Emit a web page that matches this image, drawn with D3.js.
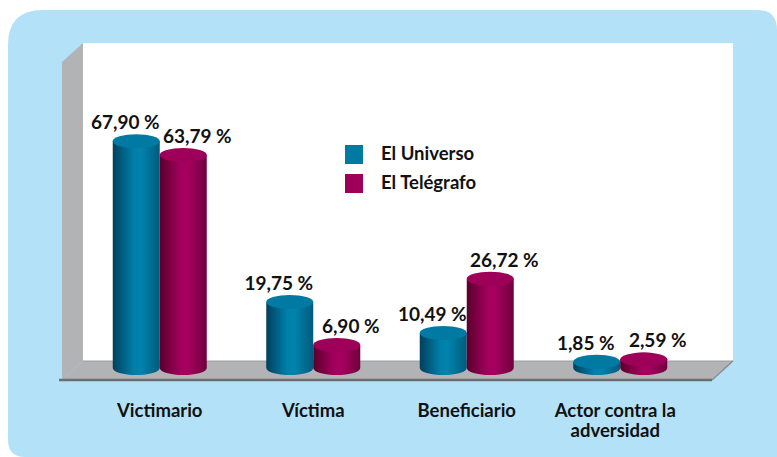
<!DOCTYPE html>
<html>
<head>
<meta charset="utf-8">
<script src="https://cdn.jsdelivr.net/npm/d3@7"></script>
<style>
  body { margin: 0; background: #fff; }
  svg text { font-family: Lato, "Open Sans", sans-serif; font-weight: 700; fill: #111; }
</style>
</head>
<body>
<svg id="chart" width="777" height="457"></svg>
<script>
const categories = ["Victimario", "Víctima", "Beneficiario", "Actor contra la adversidad"];
const seriesNames = ["El Universo", "El Telégrafo"];
const universo = [67.90, 19.75, 10.49, 1.85];
const telegrafo = [63.79, 6.90, 26.72, 2.59];

const colors = ["#0079a3", "#9e0059"];
const sideStops = [
  ["#00405c", "#0080ab", "#0083ad", "#005b7c"],
  ["#5a002c", "#a3005d", "#a6005f", "#70003c"]
];

const svg = d3.select("#chart");
const defs = svg.append("defs");

// background card
svg.append("path")
  .attr("d", "M8,45 Q8,10 43,10 L757,10 Q777,10 777,30 L777,460 L8,460 Z")
  .attr("fill", "#b3e2f8");
svg.append("path")
  .attr("d", "M8,440 Q8,457 25,457 L8,457 Z")
  .attr("fill", "#fff");

// plot area + 3D wall / floor
svg.append("rect").attr("x", 83).attr("y", 43).attr("width", 650).attr("height", 320).attr("fill", "#fff");
svg.append("polygon")
  .attr("points", "62,62 83,43 83,361 62,379")
  .attr("fill", "#b1b3b5");
svg.append("polygon")
  .attr("points", "83,361 733,361 712,379 62,379")
  .attr("fill", "#b1b3b5");
svg.append("line").attr("x1", 83).attr("y1", 361).attr("x2", 733).attr("y2", 361)
  .attr("stroke", "#9a9c9e").attr("stroke-width", 1);
svg.append("line").attr("x1", 59).attr("y1", 380).attr("x2", 712).attr("y2", 380)
  .attr("stroke", "#6d6e70").attr("stroke-width", 2.5);
svg.append("line").attr("x1", 733).attr("y1", 361).attr("x2", 712).attr("y2", 380)
  .attr("stroke", "#8a8c8e").attr("stroke-width", 1.5);

const x0 = d3.scaleBand().domain(categories).range([83, 697]);
const x1 = d3.scaleBand().domain(seriesNames).range([0, 94]);
const y = d3.scaleLinear().domain([0, 100]).range([368, 34]);

sideStops.forEach(function (stops, i) {
  const g = defs.append("linearGradient").attr("id", "side" + i)
    .attr("x1", "0%").attr("x2", "100%").attr("y1", "0%").attr("y2", "0%");
  [0, 0.45, 0.6, 1].forEach(function (o, k) {
    g.append("stop").attr("offset", o).attr("stop-color", stops[k]);
  });
});

const rows = categories.map(function (c, i) {
  return [
    { cat: c, s: 0, value: universo[i] },
    { cat: c, s: 1, value: telegrafo[i] }
  ];
}).flat();

const offset = (x0.bandwidth() - 94) / 2;
const rx = x1.bandwidth() / 2;
const ry = 7;

const bars = svg.append("g").selectAll("g")
  .data(rows)
  .enter()
  .append("g");

bars.append("path")
  .attr("fill", function (d) { return "url(#side" + d.s + ")"; })
  .attr("d", function (d) {
    const l = x0(d.cat) + offset + x1(seriesNames[d.s]);
    const r = l + x1.bandwidth();
    const top = y(d.value), base = y(0);
    return "M" + l + "," + top + " L" + l + "," + base +
      " A" + rx + "," + ry + " 0 0 0 " + r + "," + base +
      " L" + r + "," + top + " Z";
  });

bars.append("ellipse")
  .attr("cx", function (d) { return x0(d.cat) + offset + x1(seriesNames[d.s]) + rx; })
  .attr("cy", function (d) { return y(d.value); })
  .attr("rx", rx)
  .attr("ry", ry)
  .attr("fill", function (d) { return colors[d.s]; });

const fmt = function (v) { return d3.format(".2f")(v).replace(".", ",") + " %"; };

bars.append("text")
  .attr("x", function (d) {
    return x0(d.cat) + offset + x1(seriesNames[d.s]) + rx + (d.s === 0 ? -11 : 14);
  })
  .attr("y", function (d) { return y(d.value) - 12; })
  .attr("text-anchor", "middle")
  .attr("font-size", 19)
  .text(function (d) { return fmt(d.value); });

// category labels
function wrap(label) {
  const words = label.split(" ");
  const lines = [];
  let cur = "";
  words.forEach(function (w) {
    const t = cur ? cur + " " + w : w;
    if (t.length > 15 && cur) { lines.push(cur); cur = w; } else { cur = t; }
  });
  lines.push(cur);
  return lines;
}

const catLabels = svg.append("g").selectAll("text")
  .data(categories)
  .enter()
  .append("text")
  .attr("text-anchor", "middle")
  .attr("font-size", 18.5)
  .attr("transform", function (d, i) {
    return "translate(" + (x0(d) + x0.bandwidth() / 2 - (i === 3 ? 5 : 0)) + ",417)";
  });

catLabels.selectAll("tspan")
  .data(function (d) { return wrap(d); })
  .enter()
  .append("tspan")
  .attr("x", 0)
  .attr("dy", function (d, i) { return i === 0 ? 0 : 20; })
  .text(function (d) { return d; });

// legend
const legend = svg.append("g").attr("transform", "translate(345,145)")
  .selectAll("g")
  .data(seriesNames)
  .enter()
  .append("g")
  .attr("transform", function (d, i) { return "translate(0," + i * 29 + ")"; });

legend.append("rect").attr("width", 18).attr("height", 19)
  .attr("fill", function (d, i) { return colors[i]; });
legend.append("text").attr("x", 36).attr("y", 15).attr("font-size", 18.5)
  .text(function (d) { return d; });
</script>
</body>
</html>
